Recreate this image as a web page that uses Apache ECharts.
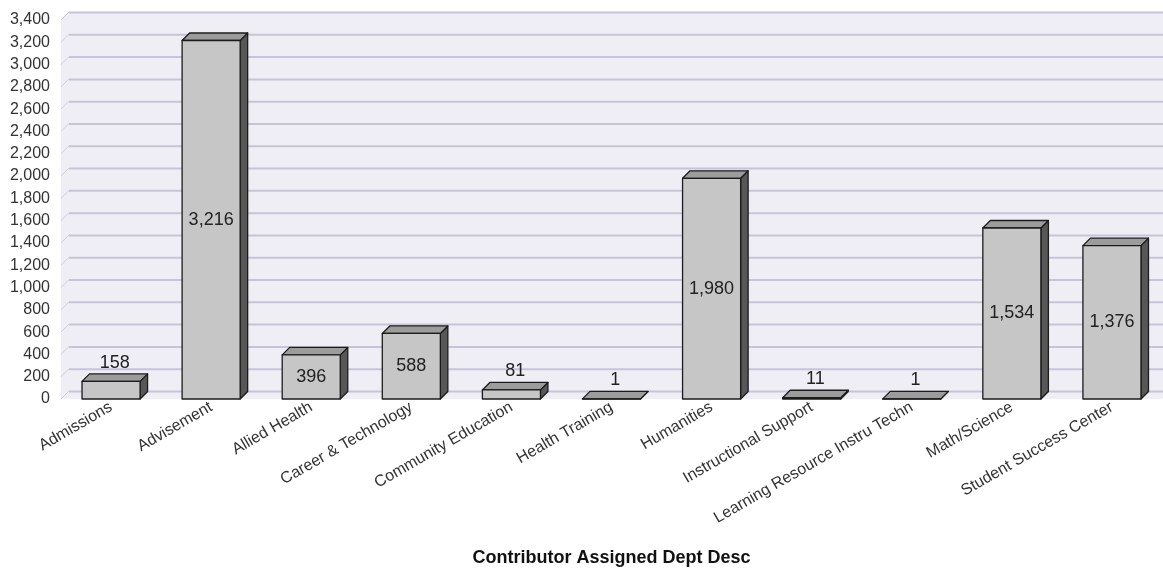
<!DOCTYPE html>
<html>
<head>
<meta charset="utf-8">
<script src="https://cdn.jsdelivr.net/npm/echarts/dist/echarts.min.js"></script>
<style>
  html, body { margin: 0; padding: 0; background: #ffffff; }
  #chart { width: 1163px; height: 572px; }
</style>
</head>
<body>
<div id="chart"></div>
<script>
// Departments and their counts
const departments = [
  'Admissions', 'Advisement', 'Allied Health', 'Career & Technology',
  'Community Education', 'Health Training', 'Humanities', 'Instructional Support',
  'Learning Resource Instru Techn', 'Math/Science', 'Student Success Center'
];
const counts = [158, 3216, 396, 588, 81, 1, 1980, 11, 1, 1534, 1376];

// Value axis ticks
const yTicks = [0, 200, 400, 600, 800, 1000, 1200, 1400, 1600, 1800, 2000,
                2200, 2400, 2600, 2800, 3000, 3200, 3400];
const yMin = 0, yMax = 3400, yStep = 200;

const axisTitle = 'Contributor Assigned Dept Desc';

const FONT = "'Liberation Sans', Arial, Helvetica, sans-serif";
const WALL_DEPTH = 8;   // offset of the back wall
const BAR_DEPTH = 7.5;  // extrusion of each bar
const BAR_RATIO = 0.58;

const fmt = v => v.toLocaleString('en-US');

const chart = echarts.init(document.getElementById('chart'), null, { renderer: 'canvas' });

// Back wall, side wall and floor as one shape
function renderWall(params, api) {
  const cs = params.coordSys;
  const d = WALL_DEPTH;
  const yTop = api.coord([0, yMax])[1];
  const yBot = api.coord([0, yMin])[1];
  const xl = cs.x, xr = cs.x + cs.width;
  return {
    type: 'polygon',
    shape: { points: [[xl, yBot], [xl, yTop], [xl + d, yTop - d], [xr + d, yTop - d], [xr + d, yBot - d], [xr, yBot]] },
    style: { fill: '#efeef4', stroke: null }
  };
}

// One grid line per tick: diagonal on the side wall, horizontal on the back wall
function renderGridLine(params, api) {
  const cs = params.coordSys;
  const d = WALL_DEPTH;
  const y = api.coord([0, api.value(0)])[1];
  const xl = cs.x, xr = cs.x + cs.width;
  return {
    type: 'group',
    children: [
      { type: 'line', shape: { x1: xl, y1: y, x2: xl + d, y2: y - d },
        style: { stroke: '#cfcde0', lineWidth: 1 } },
      { type: 'line', shape: { x1: xl + d, y1: y - d + 0.5, x2: xr + d, y2: y - d + 0.5 },
        style: { stroke: '#c6c4da', lineWidth: 2 } }
    ]
  };
}

// Extruded bar with its value label
function renderBar(params, api) {
  const i = api.value(0), v = api.value(1);
  const base = api.coord([i, 0]);
  const top = api.coord([i, v]);
  const bw = api.size([1, 0])[0] * BAR_RATIO;
  const d = BAR_DEPTH;
  const x0 = base[0] - bw / 2, x1 = base[0] + bw / 2;
  const yb = base[1], yt = top[1];
  const edge = { stroke: '#1c1c1c', lineWidth: 1.3, lineJoin: 'round' };
  const h = yb - yt;
  const inside = h > 26;
  const label = inside
    ? { type: 'text', x: base[0], y: (yt + yb) / 2,
        style: { text: fmt(v), fill: '#222', font: '18px ' + FONT, align: 'center', verticalAlign: 'middle' } }
    : { type: 'text', x: base[0] + d / 2, y: yt - d - 2,
        style: { text: fmt(v), fill: '#222', font: '18px ' + FONT, align: 'center', verticalAlign: 'bottom' } };
  return {
    type: 'group',
    children: [
      { type: 'polygon', shape: { points: [[x1, yt], [x1 + d, yt - d], [x1 + d, yb - d], [x1, yb]] },
        style: Object.assign({ fill: '#575757' }, edge) },
      { type: 'polygon', shape: { points: [[x0, yt], [x0 + d, yt - d], [x1 + d, yt - d], [x1, yt]] },
        style: Object.assign({ fill: '#9c9c9c' }, edge) },
      { type: 'polygon', shape: { points: [[x0, yt], [x1, yt], [x1, yb], [x0, yb]] },
        style: Object.assign({ fill: '#c6c6c6' }, edge) },
      label
    ]
  };
}

chart.setOption({
  animation: false,
  backgroundColor: '#ffffff',
  grid: { left: 61, right: 1, top: 20, bottom: 172, containLabel: false },
  xAxis: {
    type: 'category',
    data: departments,
    axisLine: { show: false },
    axisTick: { show: false },
    splitLine: { show: false },
    axisLabel: {
      interval: 0, rotate: 30, margin: 7,
      color: '#333', fontSize: 16, fontFamily: FONT
    },
    name: axisTitle,
    nameLocation: 'middle',
    nameGap: 150,
    nameTextStyle: { color: '#111', fontSize: 18, fontWeight: 'bold', fontFamily: FONT }
  },
  yAxis: {
    type: 'value',
    min: yMin, max: yMax, interval: yStep,
    axisLine: { show: false },
    axisTick: { show: false },
    splitLine: { show: false },
    axisLabel: {
      margin: 11, color: '#333', fontSize: 16, fontFamily: FONT,
      formatter: v => fmt(v)
    }
  },
  series: [
    { type: 'custom', z: 1, silent: true, renderItem: renderWall, data: [[0]] },
    { type: 'custom', z: 2, silent: true, renderItem: renderGridLine, data: yTicks.map(t => [t]) },
    { type: 'custom', z: 3, renderItem: renderBar, encode: { x: 0, y: 1 },
      data: counts.map((c, i) => [i, c]) }
  ]
});
</script>
</body>
</html>
